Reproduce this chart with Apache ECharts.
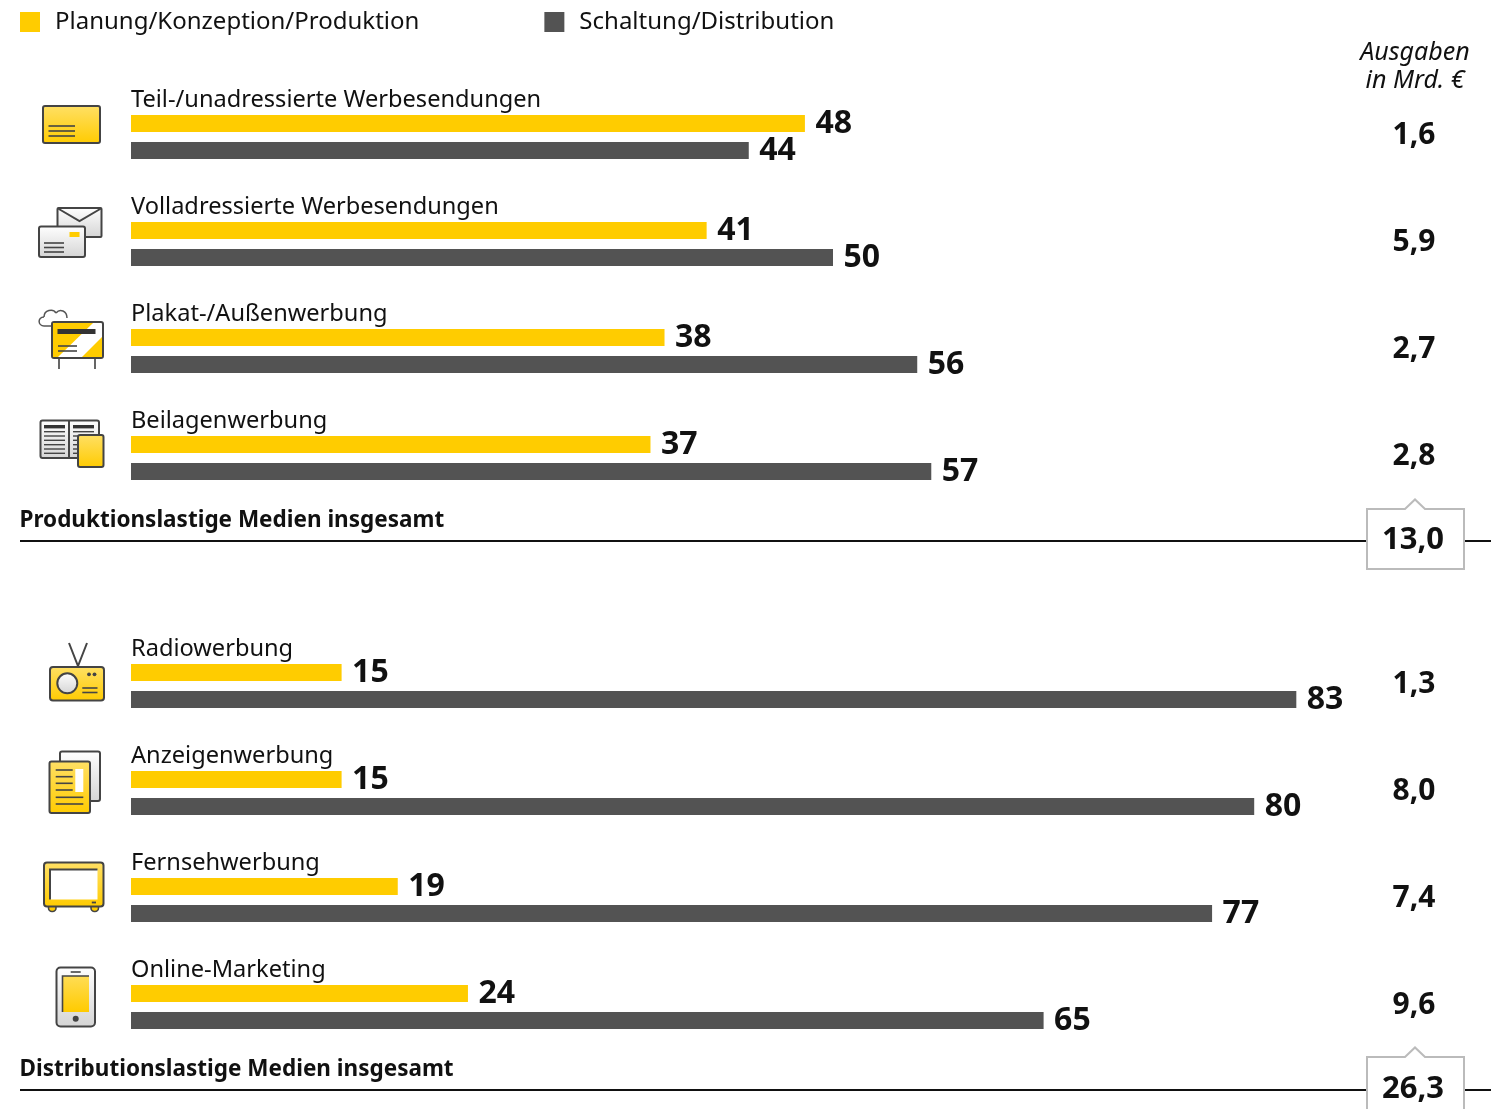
<!DOCTYPE html>
<html lang="de">
<head>
<meta charset="utf-8">
<title>Werbeausgaben nach Medien</title>
<style>
  html, body { margin: 0; padding: 0; background: #fff; overflow: hidden; }
  #chart { width: 1491px; height: 1109px; }
</style>
<script src="https://cdn.jsdelivr.net/npm/echarts@6/dist/echarts.min.js"></script>
</head>
<body>
<div id="chart"></div>
<script>
// Anteile in Prozent und Ausgaben je Werbemedium
const seriesNames = ['Planung/Konzeption/Produktion', 'Schaltung/Distribution'];

const printMedia = ['Teil-/unadressierte Werbesendungen', 'Volladressierte Werbesendungen', 'Plakat-/Außenwerbung', 'Beilagenwerbung'];
const printPlanning = [48, 41, 38, 37];
const printPlacement = [44, 50, 56, 57];
const printSpend = ['1,6', '5,9', '2,7', '2,8'];
const printTitle = 'Produktionslastige Medien insgesamt';
const printTotal = '13,0';

const reachMedia = ['Radiowerbung', 'Anzeigenwerbung', 'Fernsehwerbung', 'Online-Marketing'];
const reachPlanning = [15, 15, 19, 24];
const reachPlacement = [83, 80, 77, 65];
const reachSpend = ['1,3', '8,0', '7,4', '9,6'];
const reachTitle = 'Distributionslastige Medien insgesamt';
const reachTotal = '26,3';

const spendHeader = 'Ausgaben\nin Mrd. €';

const YELLOW = '#ffcc00';
const SLATE = '#535353';
const INK = '#111111';
const OUTLINE = '#444444';
const FONT = '"Noto Sans", sans-serif';

const grad = (top, bottom) => new echarts.graphic.LinearGradient(0, 0, 0, 1, [
  { offset: 0, color: top }, { offset: 1, color: bottom }
]);
const sunny = () => grad('#ffe066', '#ffcb00');
const silver = () => grad('#ffffff', '#d4d4d4');

// Kleine Zeichenhelfer für die Piktogramme
const box = (x, y, w, h, fill, extra) => ({
  type: 'rect',
  shape: { x, y, width: w, height: h, r: (extra && extra.r) != null ? extra.r : 2 },
  style: { fill, stroke: (extra && extra.stroke) !== undefined ? extra.stroke : OUTLINE, lineWidth: (extra && extra.lw) || 2 }
});
const stroke = (x1, y1, x2, y2, lw, color) => ({
  type: 'line',
  shape: { x1, y1, x2, y2 },
  style: { stroke: color || OUTLINE, lineWidth: lw || 1.6 }
});
const poly = (points, fill) => ({
  type: 'polygon', shape: { points }, style: { fill }
});
const path = (points, lw, color) => ({
  type: 'polyline', shape: { points }, style: { fill: 'none', stroke: color || OUTLINE, lineWidth: lw || 2 }
});
const curve = (x1, y1, cpx1, cpy1, cpx2, cpy2, x2, y2) => ({
  type: 'bezierCurve',
  shape: { x1, y1, cpx1, cpy1, cpx2, cpy2, x2, y2 },
  style: { fill: 'none', stroke: '#555555', lineWidth: 1.5 }
});
const rows = (x1, x2, ys, lw) => ys.map(y => stroke(x1, y, x2, y, lw));

const icons = [
  // Teiladressierte Sendung
  box(43, 106, 57, 37, sunny()),
  ...rows(48.5, 75, [126, 131, 136]),

  // Volladressierte Sendung
  box(57.5, 208, 44, 29, silver(), { r: 1 }),
  path([[58, 208.5], [79.5, 221], [101, 208.5]]),
  box(39, 226.5, 46, 30.5, silver()),
  box(69.5, 232, 10, 5, YELLOW, { stroke: null, r: 0 }),
  ...rows(44, 64, [243, 247.5, 252]),

  // Plakatwand mit Wolke
  curve(52, 326, 46, 326, 44, 326, 44, 326),
  curve(44, 326, 38, 326, 37, 317, 44, 317),
  curve(44, 317, 44, 310, 53, 308, 56, 313),
  curve(56, 313, 60, 308, 67, 311, 67, 318),
  stroke(59, 358, 59, 369, 2, '#666666'),
  stroke(95, 358, 95, 369, 2, '#666666'),
  box(52, 322, 51, 36, '#ffffff'),
  poly([[53, 323], [93, 323], [58, 357], [53, 357]], YELLOW),
  poly([[102, 337], [102, 357], [82, 357]], YELLOW),
  box(57.5, 329, 38, 5, '#333333', { stroke: null, r: 0 }),
  ...rows(58, 77, [346, 351]),

  // Beilage in aufgeschlagener Zeitung
  box(40.5, 420.5, 58.5, 37.5, silver()),
  stroke(69, 420.5, 69, 458, 2),
  box(44, 425, 21, 3.4, '#333333', { stroke: null, r: 0 }),
  box(73, 425, 21, 3.4, '#333333', { stroke: null, r: 0 }),
  ...rows(44, 65, [431.7, 436, 440.3, 444.7, 449, 453.3], 1.4),
  ...rows(73, 94, [431.7, 436, 440.3, 444.7, 449, 453.3], 1.4),
  box(78, 435, 25.5, 32, sunny()),

  // Radio
  path([[69, 643], [78, 666], [87, 643]], 2),
  box(50, 667, 54, 33.5, sunny(), { r: 3 }),
  { type: 'circle', shape: { cx: 67.3, cy: 683.3, r: 10 }, style: { fill: silver(), stroke: OUTLINE, lineWidth: 2 } },
  { type: 'circle', shape: { cx: 89, cy: 674.3, r: 1.9 }, style: { fill: OUTLINE } },
  { type: 'circle', shape: { cx: 94.5, cy: 674.3, r: 1.9 }, style: { fill: OUTLINE } },
  ...rows(82.3, 97.5, [688, 692.5]),

  // Anzeige
  box(60, 751.5, 40, 49.5, silver(), { r: 2 }),
  box(49.5, 761.5, 40.5, 51.5, sunny()),
  box(75.3, 769, 8, 23, '#ffffff', { stroke: null, r: 0 }),
  ...rows(55.7, 72.7, [770, 776.7, 783.3, 790]),
  ...rows(55.7, 83.3, [797.3, 804]),

  // Fernseher
  box(48.5, 904, 7.5, 7.5, YELLOW, { r: 3.5, lw: 1.6 }),
  box(91, 904, 7.5, 7.5, YELLOW, { r: 3.5, lw: 1.6 }),
  box(44, 862.5, 59.5, 44, sunny(), { r: 3 }),
  box(50.5, 869.5, 47, 30, '#ffffff', { stroke: null, r: 0 }),
  path([[50, 899.5], [50, 869.5], [97.5, 869.5]], 2),
  stroke(91.8, 902.5, 96, 902.5, 1.8),

  // Smartphone
  box(56.5, 967.5, 38.5, 59, silver(), { r: 4 }),
  box(62.5, 976, 26.5, 36, grad('#ffdd55', '#ffcb00'), { stroke: null, r: 0 }),
  path([[62.5, 1012], [62.5, 976], [89, 976]], 1.6),
  stroke(70.7, 972, 80.7, 972, 1.6),
  { type: 'circle', shape: { cx: 75.7, cy: 1018.7, r: 3 }, style: { fill: OUTLINE } }
];

// Rahmen mit Pfeilspitze um die Summe, darunter die Trennlinie der Gruppe
const totalBlock = (title, total, titleY, lineY, boxTop, boxBottom) => [
  { type: 'text', style: { x: 19.5, y: titleY, text: title, font: `700 22.5px ${FONT}`, fill: INK, verticalAlign: 'middle' } },
  stroke(20, lineY, 1366, lineY, 2, '#111111'),
  stroke(1464, lineY, 1491, lineY, 2, '#111111'),
  { type: 'polygon',
    shape: { points: [[1367, boxTop], [1405, boxTop], [1415, boxTop - 9.5], [1425, boxTop], [1464, boxTop], [1464, boxBottom], [1367, boxBottom]] },
    style: { fill: '#ffffff', stroke: '#bbbbbb', lineWidth: 2 } },
  { type: 'text', style: { x: 1413, y: lineY - 1, text: total, font: `700 31px ${FONT}`, fill: INK, align: 'center', verticalAlign: 'middle' } }
];

const valueLabel = {
  show: true, position: 'right', distance: 10.5,
  fontFamily: FONT, fontWeight: 700, fontSize: 32, color: INK
};

// Eine Gruppe: zwei Balken je Medium, Name über den Balken, Ausgaben rechts
const buildAxes = (gridIndex, media, spend) => [
  {
    gridIndex, type: 'category', data: media, inverse: true, position: 'left',
    axisLine: { show: false }, axisTick: { show: false },
    axisLabel: {
      // Leere zweite Zeile hebt den Namen über das Balkenpaar
      inside: true, margin: 0, align: 'left', verticalAlign: 'middle',
      interval: 0, showMinLabel: true, showMaxLabel: true, hideOverlap: false,
      formatter: name => name + '\n ', lineHeight: 73,
      fontFamily: FONT, fontSize: 23.6, color: INK
    }
  },
  {
    gridIndex, type: 'category', data: spend, inverse: true, position: 'right',
    axisLine: { show: false }, axisTick: { show: false },
    axisLabel: {
      margin: 19.4, align: 'center', verticalAlign: 'middle',
      interval: 0, showMinLabel: true, showMaxLabel: true, hideOverlap: false,
      formatter: value => value + '\n ', lineHeight: 3,
      fontFamily: FONT, fontWeight: 700, fontSize: 30, color: INK
    }
  }
];

const buildBars = (gridAxis, planning, placement) => [
  [seriesNames[0], planning, YELLOW],
  [seriesNames[1], placement, SLATE]
].map(([name, data, color]) => ({
  name, type: 'bar', data, xAxisIndex: gridAxis, yAxisIndex: gridAxis * 2,
  barWidth: 17, barGap: '59%', itemStyle: { color }, label: valueLabel,
  silent: true, animation: false
}));

const valueAxis = gridIndex => ({
  gridIndex, type: 'value', min: 0, max: 90, show: false, splitLine: { show: false }
});

const chart = echarts.init(document.getElementById('chart'), null, { renderer: 'canvas' });
chart.setOption({
  animation: false,
  backgroundColor: '#ffffff',
  textStyle: { fontFamily: FONT },
  legend: {
    left: 15, top: 5, icon: 'rect', itemWidth: 20, itemHeight: 20, itemGap: 125,
    data: seriesNames, selectedMode: false,
    textStyle: { fontFamily: FONT, fontSize: 24, color: INK, padding: [0, 0, 0, 10] }
  },
  grid: [
    { left: 131, top: 83.5, width: 1263.6, height: 428 },
    { left: 131, top: 632.5, width: 1263.6, height: 428 }
  ],
  xAxis: [valueAxis(0), valueAxis(1)],
  yAxis: [...buildAxes(0, printMedia, printSpend), ...buildAxes(1, reachMedia, reachSpend)],
  series: [...buildBars(0, printPlanning, printPlacement), ...buildBars(1, reachPlanning, reachPlacement)],
  graphic: [
    ...icons,
    { type: 'text', style: { x: 1415, y: 66.5, text: spendHeader, font: `italic 400 25px ${FONT}`, lineHeight: 28, fill: INK, align: 'center', verticalAlign: 'middle' } },
    ...totalBlock(printTitle, printTotal, 520.5, 541, 509, 569),
    ...totalBlock(reachTitle, reachTotal, 1069.5, 1090, 1057, 1125)
  ].map(el => Object.assign({ z: 10, silent: true }, el))
});
</script>
</body>
</html>
